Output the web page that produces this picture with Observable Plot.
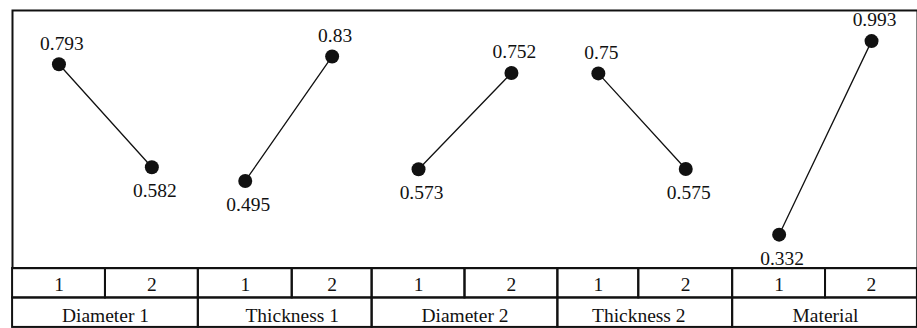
<!DOCTYPE html>
<html>
<head>
<meta charset="utf-8">
<script src="https://cdn.jsdelivr.net/npm/d3@7"></script>
<script src="https://cdn.jsdelivr.net/npm/@observablehq/plot@0.6"></script>
<style>
  html, body { margin: 0; padding: 0; background: white; overflow: hidden; }
  #chart svg { display: block; font-family: "Liberation Serif", "Times New Roman", serif; }
  #chart svg text { font-family: "Liberation Serif", "Times New Roman", serif; }
</style>
</head>
<body>
<div id="chart"></div>
<script>
// ---- data ----
const factors = ["Diameter 1", "Thickness 1", "Diameter 2", "Thickness 2", "Material"];
const levels = ["1", "2"];
const level1Values = [0.793, 0.495, 0.573, 0.75, 0.332];
const level2Values = [0.582, 0.83, 0.752, 0.575, 0.993];

// ---- derived tables ----
const points = factors.flatMap((f, i) => {
  const vals = [level1Values[i], level2Values[i]];
  const hi = Math.max(...vals);
  return levels.map((l, j) => ({factor: f, level: l, col: 2 * i + j, value: vals[j], high: vals[j] === hi}));
});
const factorCells = factors.map((f, i) => ({factor: f, col: 2 * i}));

const ink = "#111";
const font = "'Liberation Serif', 'Times New Roman', serif";
const W = 918;
const FS = 19.5;
const xScale = {
  type: "linear",
  domain: [0, 1, 2, 3, 4, 5, 6, 7, 8, 9, 10],
  range: [12, 105, 198, 292, 372, 465, 558, 639, 733, 826, 918],
  axis: null
};

const chart = Plot.plot({
  width: W, height: 268,
  marginTop: 10, marginBottom: 0, marginLeft: 12, marginRight: 0,
  style: {background: "white", overflow: "visible"},
  x: xScale,
  y: {type: "linear", domain: [0.3, 0.5, 0.58, 0.75, 0.83, 1.0], range: [245, 179, 168, 73, 56, 40], axis: null},
  marks: [
    Plot.frame({stroke: ink, strokeWidth: 2}),
    Plot.line(points, {x: d => d.col + 0.5, y: "value", z: "factor", stroke: ink, strokeWidth: 1.3}),
    Plot.dot(points, {x: d => d.col + 0.5, y: "value", r: 7, fill: ink, stroke: "none"}),
    Plot.text(points.filter(d => d.high), {x: d => d.col + 0.5, y: "value", text: d => String(d.value), dy: -21, dx: 3, fontSize: FS, fontFamily: font, fill: ink}),
    Plot.text(points.filter(d => !d.high), {x: d => d.col + 0.5, y: "value", text: d => String(d.value), dy: 24, dx: 3, fontSize: FS, fontFamily: font, fill: ink})
  ]
});

const table = Plot.plot({
  width: W, height: 60,
  marginTop: 0, marginBottom: 0, marginLeft: 0, marginRight: 0,
  style: {background: "white", overflow: "visible"},
  x: xScale,
  y: {type: "linear", domain: [0, 2], range: [0, 59], axis: null},
  marks: [
    Plot.rect(points, {x1: d => d.col, x2: d => d.col + 1, y1: () => 0, y2: () => 1, fill: "none", stroke: ink, strokeWidth: 2}),
    Plot.rect(factorCells, {x1: d => d.col, x2: d => d.col + 2, y1: () => 1, y2: () => 2, fill: "none", stroke: ink, strokeWidth: 2}),
    Plot.text(points, {x: d => d.col + 0.5, y: () => 0.5, text: "level", dy: 2, fontSize: FS, fontFamily: font, fill: ink}),
    Plot.text(factorCells, {x: d => d.col + 1, y: () => 1.5, text: "factor", dy: 3, fontSize: FS, fontFamily: font, fill: ink})
  ]
});

const root = document.getElementById("chart");
root.appendChild(chart);
root.appendChild(table);
</script>
</body>
</html>
